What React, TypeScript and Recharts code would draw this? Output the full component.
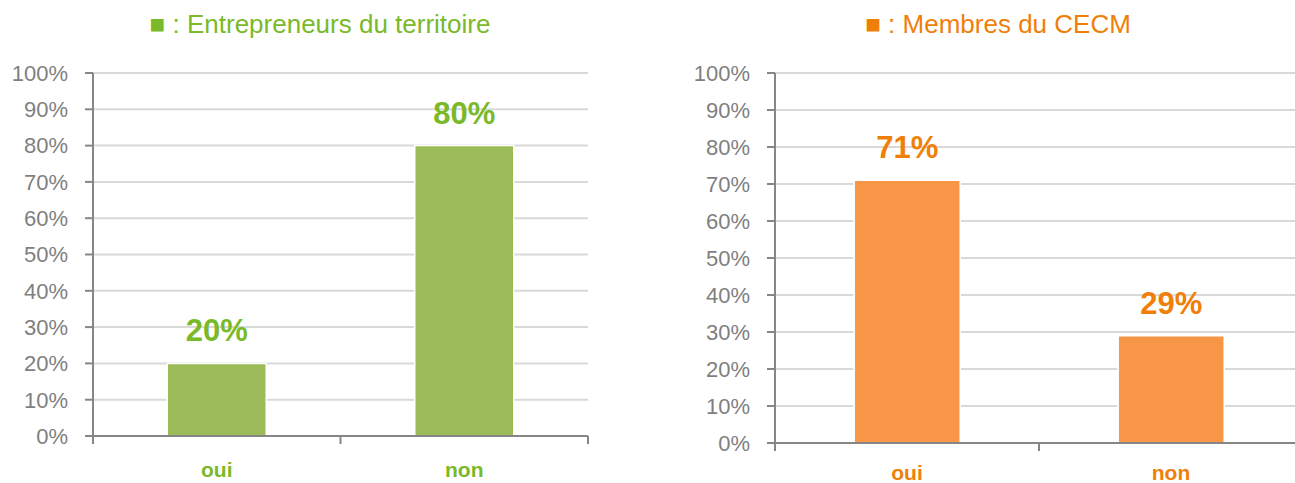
import { BarChart, Bar, XAxis, YAxis, CartesianGrid, LabelList } from 'recharts'

const categories = ['oui', 'non']
const entrepreneurs = [20, 80]
const membres = [71, 29]
const yTicks = [0, 10, 20, 30, 40, 50, 60, 70, 80, 90, 100]

const FONT = '"Liberation Sans", Arial, sans-serif'
const GREEN = '#7ab929'
const ORANGE = '#f07f09'
const AXIS = '#868686'

const toRows = (values: number[]) => categories.map((c, i) => ({ name: c, value: values[i] }))

function makeTick(color: string, half: number, dy: number) {
    return (props: any) => {
        const { x, y, payload, index } = props
        return (
            <g>
                {index === 0 && <line x1={x - half} x2={x - half} y1={y} y2={y + 8} stroke={AXIS} strokeWidth={2} />}
                <line x1={x + half} x2={x + half} y1={y} y2={y + 8} stroke={AXIS} strokeWidth={2} />
                <text x={x} y={y + dy} textAnchor="middle" fill={color} fontSize={21} fontWeight="bold" fontFamily={FONT}>
                    {payload.value}
                </text>
            </g>
        )
    }
}

interface PanelProps {
    title: string
    values: number[]
    barColor: string
    textColor: string
    left: number
    width: number
    yWidth: number
    right: number
    xHeight: number
    titleX: number
    tickDy: number
}

function Panel({ title, values, barColor, textColor, left, width, yWidth, right, xHeight, titleX, tickDy }: PanelProps) {
    const half = (width - yWidth - right) / 4
    return (
        <div style={{ position: 'absolute', left, top: 0 }}>
            <div style={{ position: 'absolute', left: titleX, top: 9, whiteSpace: 'nowrap', color: textColor, fontFamily: FONT, fontSize: 26, transform: 'translateX(-50%)' }}>
                {'■ : ' + title}
            </div>
            <BarChart width={width} height={483} data={toRows(values)} margin={{ top: 73, right, bottom: 0, left: 0 }} barCategoryGap="30%">
                <CartesianGrid vertical={false} stroke="#d9d9d9" strokeWidth={2} />
                <YAxis
                    width={yWidth}
                    domain={[0, 100]}
                    ticks={yTicks}
                    tickFormatter={(v) => v + '%'}
                    tick={{ fill: '#7f7f7f', fontSize: 22, fontFamily: FONT }}
                    tickSize={8}
                    tickMargin={17}
                    stroke={AXIS}
                    strokeWidth={2}
                    interval={0}
                />
                <XAxis
                    dataKey="name"
                    height={xHeight}
                    tick={makeTick(textColor, half, tickDy)}
                    tickLine={false}
                    tickSize={0}
                    tickMargin={0}
                    stroke={AXIS}
                    strokeWidth={2}
                    interval={0}
                />
                <Bar dataKey="value" fill={barColor} stroke="#ffffff" strokeWidth={1.5} isAnimationActive={false}>
                    <LabelList
                        dataKey="value"
                        position="top"
                        offset={22}
                        formatter={(v: any) => v + '%'}
                        fill={textColor}
                        fontSize={31}
                        fontWeight="bold"
                        fontFamily={FONT}
                    />
                </Bar>
            </BarChart>
        </div>
    )
}

export default function App() {
    return (
        <div style={{ position: 'absolute', left: 0, top: 0, width: 1295, height: 483, overflow: 'hidden', background: '#fff' }}>
            <Panel
                title="Entrepreneurs du territoire"
                values={entrepreneurs}
                barColor="#9bbb59"
                textColor={GREEN}
                left={0}
                width={640}
                yWidth={93}
                right={52}
                xHeight={47}
                titleX={320}
                tickDy={41}
            />
            <Panel
                title="Membres du CECM"
                values={membres}
                barColor="#f79646"
                textColor={ORANGE}
                left={650}
                width={660}
                yWidth={125}
                right={7}
                xHeight={40}
                titleX={348}
                tickDy={37}
            />
        </div>
    )
}
